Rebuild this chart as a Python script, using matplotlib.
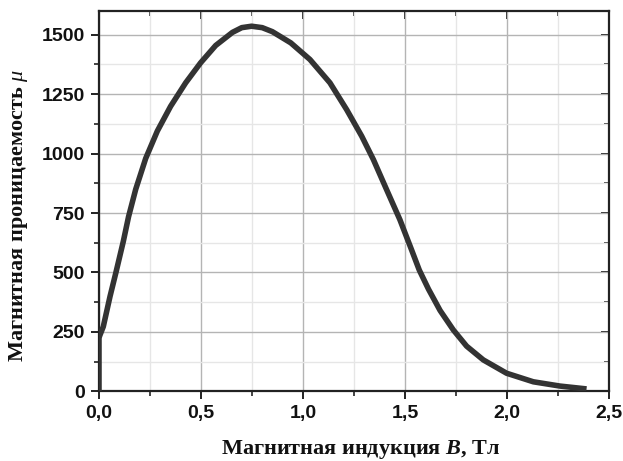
import matplotlib
matplotlib.use("Agg")
import matplotlib.pyplot as plt
from matplotlib.ticker import MultipleLocator, FuncFormatter

# Permeability vs. magnetic induction
induction_T = [0.0, 0.0, 0.004, 0.021, 0.054, 0.083, 0.119, 0.145, 0.180,
               0.229, 0.286, 0.351, 0.425, 0.498, 0.572, 0.654, 0.700, 0.748,
               0.800, 0.850, 0.940, 1.034, 1.132, 1.214, 1.288, 1.345, 1.410,
               1.475, 1.530, 1.570, 1.615, 1.672, 1.737, 1.802, 1.884, 1.998,
               2.129, 2.260, 2.39]
permeability = [0, 225, 235, 272, 399, 500, 630, 735, 850,
                980, 1095, 1199, 1298, 1382, 1455, 1510, 1530, 1536,
                1530, 1513, 1466, 1396, 1298, 1185, 1073, 975, 848,
                722, 600, 510, 430, 340, 258, 190, 132, 76,
                40, 22, 10]

x_ticks = [0.0, 0.5, 1.0, 1.5, 2.0, 2.5]
y_ticks = [0, 250, 500, 750, 1000, 1250, 1500]

plt.rcParams["mathtext.fontset"] = "custom"
plt.rcParams["mathtext.it"] = "Liberation Serif:italic"
plt.rcParams["mathtext.bf"] = "Liberation Serif:italic:bold"
plt.rcParams["mathtext.rm"] = "Liberation Serif"

fig = plt.figure(figsize=(6.23, 4.61), dpi=100)
ax = fig.add_axes([99 / 623, 1 - 391.3 / 461, 510 / 623, 380.3 / 461])

spine_c = "#222222"
ax.plot(induction_T, permeability, color="#333333", lw=4.0,
        solid_capstyle="butt", solid_joinstyle="round", zorder=3)

ax.set_xlim(0, 2.5)
ax.set_ylim(0, 1600)
ax.set_xticks(x_ticks)
ax.set_yticks(y_ticks)
ax.xaxis.set_minor_locator(MultipleLocator(0.25))
ax.yaxis.set_minor_locator(MultipleLocator(125))
ax.xaxis.set_major_formatter(FuncFormatter(lambda v, p: f"{v:.1f}".replace(".", ",")))

ax.grid(which="major", color="#b4b4b4", lw=1.0, zorder=0)
ax.grid(which="minor", color="#e6e6e6", lw=1.0, zorder=0)

for s in ax.spines.values():
    s.set_color(spine_c)
    s.set_linewidth(1.6)

tick_font = dict(family="Liberation Sans", weight="bold", size=14)
ax.tick_params(which="major", direction="out", length=6, width=1.4,
               color=spine_c, pad=4)
ax.tick_params(which="minor", direction="out", length=3.5, width=1.2,
               color=spine_c)
for lab in ax.get_xticklabels() + ax.get_yticklabels():
    lab.set_fontproperties(tick_font)
    lab.set_color("#111111")

# mirrored ticks on top and right, pointing inward
top = ax.secondary_xaxis("top")
top.set_xticks(x_ticks)
top.xaxis.set_minor_locator(MultipleLocator(0.25))
top.tick_params(which="major", direction="in", length=6, width=1.4,
                color=spine_c, labeltop=False)
top.tick_params(which="minor", direction="in", length=3.5, width=1.2,
                color=spine_c)
top.spines["top"].set_visible(False)

right = ax.secondary_yaxis("right")
right.set_yticks(y_ticks)
right.yaxis.set_minor_locator(MultipleLocator(125))
right.tick_params(which="major", direction="in", length=6, width=1.4,
                  color=spine_c, labelright=False)
right.tick_params(which="minor", direction="in", length=3.5, width=1.2,
                  color=spine_c)
right.spines["right"].set_visible(False)

label_font = dict(family="Liberation Serif", weight="bold", size=16.0,
                  color="#111111")
fig.text(361 / 623, 1 - 449 / 461, r"Магнитная индукция $\mathbf{B}$, Тл",
         ha="center", va="center", **label_font)
fig.text(19 / 623, 1 - 216 / 461, r"Магнитная проницаемость $\mu$",
         ha="center", va="center", rotation=90, **label_font)

fig.savefig("out.png", dpi=100)
